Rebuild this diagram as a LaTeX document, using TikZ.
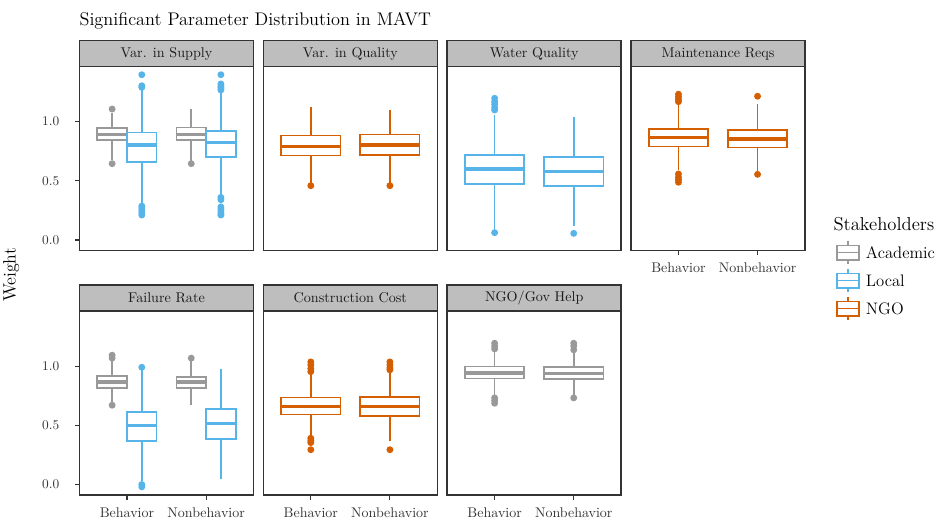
\documentclass[tikz,border=0pt]{standalone}
\usepackage{xcolor}
\usepackage{tikz}
\usetikzlibrary{positioning}
\definecolor{acadgrey}{HTML}{999999}
\definecolor{localblue}{HTML}{56B4E9}
\definecolor{ngoorange}{HTML}{D55E00}
\definecolor{stripgrey}{HTML}{BEBEBE}
\definecolor{frameink}{HTML}{333333}
\definecolor{stripink}{HTML}{1A1A1A}
\definecolor{tickink}{HTML}{333333}

% centre, half width, colour, lower whisker, q1, median, q3, upper whisker
\newcommand{\wbox}[8]{%
  \draw[whisk,draw=#3] (#1,#4) -- (#1,#5) (#1,#7) -- (#1,#8);
  \draw[boxline,draw=#3,fill=white] (#1-#2,#5) rectangle (#1+#2,#7);
  \draw[medline,draw=#3] (#1-#2,#6) -- (#1+#2,#6);
}
\newcommand{\outs}[3]{\foreach \o in {#3}{\fill[#2] (#1,\o) circle (2.6pt);}}

\begin{document}
\begin{tikzpicture}[
  x=0.75pt,y=-0.75pt,
  panel/.style 2 args={shift={(#1,#2)},x=59.33pt,y=88.73pt},
  frame/.style={draw=frameink,line width=1.1pt},
  strip/.style={draw=frameink,line width=1.1pt,fill=stripgrey,inner sep=0pt,
    minimum width=130.5pt,minimum height=19.4pt,text=stripink,
    font=\fontsize{10.6}{12}\selectfont},
  whisk/.style={line width=1.25pt},
  boxline/.style={line width=1.25pt},
  medline/.style={line width=2.4pt},
  keyline/.style={line width=1.2pt},
  tick/.style={draw=frameink,line width=0.8pt},
  ylab/.style={anchor=east,inner sep=0pt,text=tickink,font=\fontsize{10}{12}\selectfont},
  xlab/.style={anchor=base,inner sep=0pt,text=tickink,font=\fontsize{10.5}{12}\selectfont},
  leglab/.style={anchor=west,inner sep=0pt,font=\fontsize{12.5}{14}\selectfont}
]
  \useasboundingbox (0,0) rectangle (941,523);

  \node[anchor=base west,inner sep=0pt,font=\fontsize{13.7}{16}\selectfont]
    (title) at (79.3,25.5) {Significant Parameter Distribution in MAVT};
  \node[rotate=90,anchor=base,inner sep=0pt,font=\fontsize{13.4}{16}\selectfont]
    (weight) at (15.5,275) {Weight};

  % Var. in Supply
  \begin{scope}[panel={47.86}{240}]
    \wbox{0.8125}{0.1875}{acadgrey}{0.676}{0.843}{0.891}{0.949}{1.071}
    \outs{0.8125}{acadgrey}{1.107,0.645}
    \wbox{1.1875}{0.1875}{localblue}{0.30}{0.659}{0.803}{0.910}{1.27}
    \outs{1.1875}{localblue}{1.397,1.304,1.29,0.287,0.27,0.25,0.23,0.211}
    \wbox{1.8125}{0.1875}{acadgrey}{0.67}{0.843}{0.895}{0.952}{1.105}
    \outs{1.8125}{acadgrey}{0.645}
    \wbox{2.1875}{0.1875}{localblue}{0.38}{0.704}{0.823}{0.924}{1.25}
    \outs{2.1875}{localblue}{1.397,1.319,1.30,1.285,1.268,0.36,0.34,0.28,0.26,0.24,0.22,0.211}
    \draw[frame] (0.4,-0.09) rectangle (2.6,1.466);
    \node[strip] (supply) at (1.5,1.5755) {Var. in Supply};
    \foreach \v/\t [count=\i] in {0/0.0,0.5/0.5,1/1.0} {
      \draw[tick] (0.4,\v) -- +(-3.4pt,0);
      \node[ylab] (ytopA\i) at ([xshift=-15pt]0.4,\v) {\t};
    }
  \end{scope}

  % Var. in Quality
  \begin{scope}[panel={231.69}{240}]
    \wbox{1}{0.375}{ngoorange}{0.47}{0.713}{0.792}{0.882}{1.124}
    \outs{1}{ngoorange}{0.459}
    \wbox{2}{0.375}{ngoorange}{0.47}{0.718}{0.803}{0.893}{1.096}
    \outs{2}{ngoorange}{0.459}
    \draw[frame] (0.4,-0.09) rectangle (2.6,1.466);
    \node[strip] (quality) at (1.5,1.5755) {Var. in Quality};
  \end{scope}

  % Water Quality
  \begin{scope}[panel={415.52}{240}]
    \wbox{1}{0.375}{localblue}{0.08}{0.473}{0.600}{0.721}{1.057}
    \outs{1}{localblue}{1.198,1.17,1.147,1.12,1.099,0.062}
    \wbox{2}{0.375}{localblue}{0.12}{0.456}{0.580}{0.704}{1.042}
    \outs{2}{localblue}{0.056}
    \draw[frame] (0.4,-0.09) rectangle (2.6,1.466);
    \node[strip] (water) at (1.5,1.5755) {Water Quality};
  \end{scope}

  % Maintenance Reqs
  \begin{scope}[panel={599.35}{240}]
    \wbox{1}{0.375}{ngoorange}{0.59}{0.789}{0.865}{0.938}{1.15}
    \outs{1}{ngoorange}{1.232,1.21,1.19,1.169,0.558,0.53,0.51,0.488}
    \wbox{2}{0.375}{ngoorange}{0.57}{0.783}{0.854}{0.932}{1.15}
    \outs{2}{ngoorange}{1.215,0.555}
    \draw[frame] (0.4,-0.09) rectangle (2.6,1.466);
    \node[strip] (maint) at (1.5,1.5755) {Maintenance Reqs};
    \foreach \u/\t [count=\i] in {1/Behavior,2/Nonbehavior} {
      \draw[tick] (\u,-0.09) -- +(0,-3.4pt);
      \node[xlab] (xmaint\i) at ([yshift=-16.7pt]\u,-0.09) {\t};
    }
  \end{scope}

  % Failure Rate
  \begin{scope}[panel={47.86}{484.5}]
    \wbox{0.8125}{0.1875}{acadgrey}{0.69}{0.816}{0.867}{0.915}{1.04}
    \outs{0.8125}{acadgrey}{1.093,1.068,0.670}
    \wbox{1.1875}{0.1875}{localblue}{0.03}{0.368}{0.498}{0.611}{0.97}
    \outs{1.1875}{localblue}{0.991,0.0,-0.02}
    \wbox{1.8125}{0.1875}{acadgrey}{0.670}{0.814}{0.867}{0.909}{1.04}
    \outs{1.8125}{acadgrey}{1.068}
    \wbox{2.1875}{0.1875}{localblue}{0.044}{0.385}{0.514}{0.639}{0.98}
    \draw[frame] (0.4,-0.09) rectangle (2.6,1.466);
    \node[strip] (failure) at (1.5,1.5755) {Failure Rate};
    \foreach \v/\t [count=\i] in {0/0.0,0.5/0.5,1/1.0} {
      \draw[tick] (0.4,\v) -- +(-3.4pt,0);
      \node[ylab] (ybotA\i) at ([xshift=-15pt]0.4,\v) {\t};
    }
    \foreach \u/\t [count=\i] in {1/Behavior,2/Nonbehavior} {
      \draw[tick] (\u,-0.09) -- +(0,-3.4pt);
      \node[xlab] (xfail\i) at ([yshift=-16.7pt]\u,-0.09) {\t};
    }
  \end{scope}

  % Construction Cost
  \begin{scope}[panel={231.69}{484.5}]
    \wbox{1}{0.375}{ngoorange}{0.40}{0.591}{0.662}{0.734}{0.94}
    \outs{1}{ngoorange}{1.036,1.01,0.98,0.954,0.391,0.37,0.354,0.294}
    \wbox{2}{0.375}{ngoorange}{0.365}{0.577}{0.658}{0.738}{0.96}
    \outs{2}{ngoorange}{1.036,1.01,0.985,0.969,0.294}
    \draw[frame] (0.4,-0.09) rectangle (2.6,1.466);
    \node[strip] (cost) at (1.5,1.5755) {Construction Cost};
    \foreach \u/\t [count=\i] in {1/Behavior,2/Nonbehavior} {
      \draw[tick] (\u,-0.09) -- +(0,-3.4pt);
      \node[xlab] (xcost\i) at ([yshift=-16.7pt]\u,-0.09) {\t};
    }
  \end{scope}

  % NGO/Gov Help
  \begin{scope}[panel={415.52}{484.5}]
    \wbox{1}{0.375}{acadgrey}{0.74}{0.895}{0.943}{0.997}{1.14}
    \outs{1}{acadgrey}{1.194,1.17,1.146,0.732,0.71,0.687}
    \wbox{2}{0.375}{acadgrey}{0.75}{0.893}{0.940}{0.992}{1.13}
    \outs{2}{acadgrey}{1.194,1.17,1.138,0.732}
    \draw[frame] (0.4,-0.09) rectangle (2.6,1.466);
    \node[strip] (help) at (1.5,1.5755) {NGO/Gov Help};
    \foreach \u/\t [count=\i] in {1/Behavior,2/Nonbehavior} {
      \draw[tick] (\u,-0.09) -- +(0,-3.4pt);
      \node[xlab] (xhelp\i) at ([yshift=-16.7pt]\u,-0.09) {\t};
    }
  \end{scope}

  % legend
  \node[anchor=base west,inner sep=0pt,font=\fontsize{14}{16}\selectfont]
    (stakeholders) at (833.3,230.7) {Stakeholders};
  \foreach \c/\t/\n [count=\i] in {acadgrey/Academic/academic,localblue/Local/local,ngoorange/NGO/ngo} {
    \pgfmathsetmacro\ky{252.7+28*(\i-1)}
    \draw[keyline,\c] (847.8,\ky-12) -- (847.8,\ky+11);
    \draw[keyline,\c,fill=white] (836.7,\ky-7) rectangle (859,\ky+7.3);
    \draw[keyline,\c] (836.7,\ky) -- (859,\ky);
    \node[leglab] (\n) at (865.7,\ky) {\t};
  }
\end{tikzpicture}
\end{document}
